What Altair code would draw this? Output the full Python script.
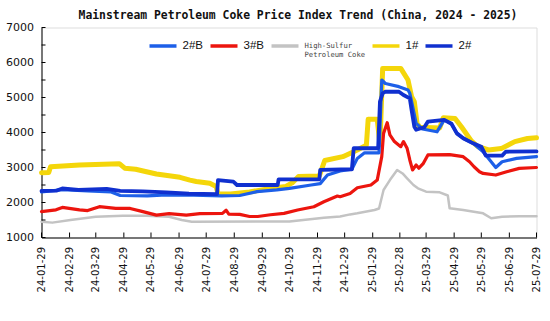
import altair as alt
import pandas as pd

# ---------------- data ----------------
SERIES = ["2#B", "3#B", "High-Sulfur Petroleum Coke", "1#", "2#"]

TICK_DATES = ["2024-01-29", "2024-02-29", "2024-03-29", "2024-04-29", "2024-05-29",
              "2024-06-29", "2024-07-29", "2024-08-29", "2024-09-29", "2024-10-29",
              "2024-11-29", "2024-12-29", "2025-01-29", "2025-02-28", "2025-03-29",
              "2025-04-29", "2025-05-29", "2025-06-29", "2025-07-29"]
Y_TICKS = [1000, 1500, 2000, 2500, 3000, 3500, 4000, 4500, 5000, 5500, 6000, 6500, 7000]

D_1 = ["2024-01-29", "2024-02-06", "2024-02-08", "2024-03-11", "2024-04-24", "2024-04-30",
       "2024-05-12", "2024-05-24", "2024-06-04", "2024-06-30", "2024-07-11", "2024-07-18",
       "2024-08-02", "2024-08-09", "2024-08-11", "2024-08-25", "2024-09-15", "2024-10-05",
       "2024-10-25", "2024-11-01", "2024-11-08", "2024-12-01", "2024-12-07", "2024-12-27",
       "2025-01-12", "2025-01-22", "2025-01-24", "2025-02-03", "2025-02-06", "2025-02-09",
       "2025-03-01", "2025-03-09", "2025-03-13", "2025-03-16", "2025-03-19", "2025-03-22",
       "2025-04-13", "2025-04-17", "2025-04-30", "2025-05-07", "2025-05-18", "2025-05-25",
       "2025-06-06", "2025-06-20", "2025-07-05", "2025-07-19", "2025-07-29"]
V_1 = [2850, 2860, 3020, 3070, 3110, 2980,
       2950, 2880, 2815, 2720, 2640, 2600,
       2550, 2460, 2250, 2240, 2300, 2390,
       2460, 2560, 2740, 2760, 3200, 3310,
       3500, 3640, 4380, 4380, 3650, 5830,
       5830, 5500, 5020, 4880, 4260, 4150,
       4130, 4420, 4400, 4165, 3760, 3600,
       3500, 3540, 3740, 3830, 3850]

D_2 = ["2024-01-29", "2024-02-15", "2024-02-21", "2024-03-10", "2024-04-10", "2024-04-25",
       "2024-05-20", "2024-06-15", "2024-07-10", "2024-08-10", "2024-08-11", "2024-08-28",
       "2024-09-01", "2024-10-16", "2024-10-17", "2024-12-01", "2024-12-02", "2025-01-06",
       "2025-01-08", "2025-02-04", "2025-02-06", "2025-02-09", "2025-02-12", "2025-02-27",
       "2025-03-04", "2025-03-11", "2025-03-13", "2025-03-16", "2025-03-18", "2025-03-27",
       "2025-03-31", "2025-04-18", "2025-04-26", "2025-05-02", "2025-05-09", "2025-05-20",
       "2025-05-29", "2025-06-03", "2025-06-21", "2025-06-25", "2025-07-29"]
V_2 = [2330, 2340, 2400, 2360, 2390, 2330,
       2320, 2290, 2250, 2240, 2640, 2595,
       2500, 2500, 2660, 2660, 2930, 2950,
       3550, 3550, 4880, 5120, 5165, 5165,
       5070, 4975, 4640, 4165, 4080, 4150,
       4310, 4360, 4250, 3975, 3835, 3690,
       3595, 3340, 3340, 3450, 3460]

D_2B = ["2024-01-29", "2024-02-21", "2024-03-20", "2024-04-15", "2024-04-25", "2024-05-25",
        "2024-06-15", "2024-07-15", "2024-08-15", "2024-09-04", "2024-09-23", "2024-10-15",
        "2024-10-29", "2024-11-22", "2024-12-02", "2024-12-10", "2024-12-24", "2025-01-06",
        "2025-01-12", "2025-01-20", "2025-02-05", "2025-02-08", "2025-02-12", "2025-02-27",
        "2025-03-09", "2025-03-11", "2025-03-13", "2025-03-18", "2025-03-25", "2025-04-10",
        "2025-04-18", "2025-04-26", "2025-05-02", "2025-05-09", "2025-05-20", "2025-05-31",
        "2025-06-14", "2025-06-21", "2025-07-07", "2025-07-29"]
V_2B = [2300, 2370, 2330, 2300, 2200, 2190,
        2220, 2210, 2190, 2200, 2310, 2360,
        2405, 2500, 2540, 2785, 2900, 2950,
        3260, 3420, 3420, 5500, 5400, 5310,
        5215, 5120, 4880, 4260, 4100, 4020,
        4360, 4250, 3975, 3835, 3690, 3450,
        3000, 3165, 3260, 3310]

D_3B = ["2024-01-29", "2024-02-14", "2024-02-21", "2024-03-11", "2024-03-20", "2024-04-02",
        "2024-04-20", "2024-05-06", "2024-05-20", "2024-06-04", "2024-06-18", "2024-07-07",
        "2024-07-22", "2024-08-16", "2024-08-20", "2024-08-23", "2024-09-04", "2024-09-15",
        "2024-09-24", "2024-10-08", "2024-10-23", "2024-11-07", "2024-11-25", "2024-12-06",
        "2024-12-21", "2024-12-24", "2025-01-04", "2025-01-12", "2025-01-27", "2025-02-03",
        "2025-02-08", "2025-02-10", "2025-02-14", "2025-02-17", "2025-02-22", "2025-03-01",
        "2025-03-04", "2025-03-08", "2025-03-11", "2025-03-14", "2025-03-18", "2025-03-21",
        "2025-03-26", "2025-03-31", "2025-04-24", "2025-05-09", "2025-05-16", "2025-05-21",
        "2025-05-27", "2025-05-31", "2025-06-14", "2025-06-26", "2025-07-10", "2025-07-29"]
V_3B = [1740, 1790, 1860, 1790, 1770, 1880,
        1830, 1830, 1740, 1640, 1680, 1640,
        1680, 1690, 1780, 1670, 1660, 1600,
        1600, 1650, 1690, 1785, 1880, 2020,
        2185, 2165, 2260, 2420, 2500, 2640,
        3310, 3975, 4280, 3930, 3740, 3595,
        3740, 3550, 3215, 2930, 3070, 2980,
        3120, 3360, 3370, 3310, 3165, 3020,
        2880, 2830, 2785, 2880, 2975, 3000]

D_HS = ["2024-01-29", "2024-02-10", "2024-03-01", "2024-03-29", "2024-04-28", "2024-05-24",
        "2024-06-18", "2024-07-02", "2024-07-13", "2024-10-29", "2024-12-06", "2024-12-24",
        "2025-01-04", "2025-01-12", "2025-01-31", "2025-02-05", "2025-02-10", "2025-02-17",
        "2025-02-25", "2025-03-03", "2025-03-08", "2025-03-15", "2025-03-20", "2025-03-29",
        "2025-04-13", "2025-04-22", "2025-04-24", "2025-05-09", "2025-05-31", "2025-06-09",
        "2025-06-21", "2025-07-10", "2025-07-29"]
V_HS = [1450, 1425, 1500, 1595, 1620, 1620,
        1595, 1500, 1450, 1460, 1565, 1600,
        1660, 1690, 1785, 1830, 2357, 2640,
        2930, 2830, 2690, 2500, 2405, 2310,
        2290, 2200, 1835, 1785, 1690, 1550,
        1595, 1610, 1610]

# ---------------- styling ----------------
COLORS = ["#1d5fe8", "#ec150e", "#c3c3c3", "#f4d60a", "#1030cf"]
WIDTHS = {"2#B": 3.2, "3#B": 3.2, "High-Sulfur Petroleum Coke": 2.5, "1#": 5, "2#": 3.8}
DRAW_ORDER = ["1#", "High-Sulfur Petroleum Coke", "3#B", "2#B", "2#"]

frames = []
for name, d, v in [("1#", D_1, V_1), ("2#", D_2, V_2), ("2#B", D_2B, V_2B),
                   ("3#B", D_3B, V_3B), ("High-Sulfur Petroleum Coke", D_HS, V_HS)]:
    frames.append(pd.DataFrame({"date": d, "value": v, "series": name}))
df = pd.concat(frames, ignore_index=True)

W, H = 495, 210
x_scale = alt.Scale(type="utc", domain=["2024-01-29", "2025-07-29"], nice=False)
y_scale = alt.Scale(domain=[1000, 7000], nice=False, zero=False)

tick_ms = [int(pd.Timestamp(t, tz="UTC").value // 10**6) for t in TICK_DATES]

x_axis = alt.Axis(values=tick_ms, labelExpr="utcFormat(datum.value, '%y-%m-%d')",
                  labelAngle=-90, labelAlign="right", labelBaseline="middle",
                  labelFont="DejaVu Sans", labelFontSize=10, labelColor="#111",
                  labelPadding=9, tickSize=0, domainColor="#000", domainWidth=1,
                  grid=False, title=None, labelOverlap=False)
y_axis = alt.Axis(values=[1000, 2000, 3000, 4000, 5000, 6000, 7000], format="d",
                  labelFont="DejaVu Sans", labelFontSize=11, labelColor="#111",
                  labelPadding=8, tickSize=0, domainColor="#000", domainWidth=1,
                  grid=False, title=None)

hs = "High-Sulfur Petroleum Coke"
legend = alt.Legend(
    title=None, orient="none", legendX=106, legendY=3, direction="horizontal", columns=5,
    gridAlign="none",
    symbolType="stroke", symbolSize=729, symbolStrokeWidth=3.5,
    labelExpr=f"datum.label == '{hs}' ? ['High-Sulfur', 'Petroleum Coke'] : datum.label",
    labelFont=alt.ExprRef(f"datum.label == '{hs}' ? 'DejaVu Sans Mono' : 'Liberation Sans'"),
    labelFontSize=alt.ExprRef(f"datum.label == '{hs}' ? 7.2 : 11.5"),
    labelColor=alt.ExprRef(f"datum.label == '{hs}' ? '#444444' : '#111111'"),
    labelOffset=4, columnPadding=0, labelLimit=200,
)

color = alt.Color("series:N", scale=alt.Scale(domain=SERIES, range=COLORS), legend=legend)

layers = []
for s in DRAW_ORDER:
    layers.append(
        alt.Chart(df).transform_filter(alt.datum.series == s)
        .mark_line(strokeWidth=WIDTHS[s], strokeJoin="round", strokeCap="round")
        .encode(x=alt.X("date:T", scale=x_scale, axis=x_axis),
                y=alt.Y("value:Q", scale=y_scale, axis=y_axis),
                color=color)
    )

xt = alt.Chart(pd.DataFrame({"date": TICK_DATES})).mark_rule(color="#000", strokeWidth=1).encode(
    x=alt.X("date:T", scale=x_scale, axis=x_axis), y=alt.value(H), y2=alt.value(H - 5))
yt = alt.Chart(pd.DataFrame({"value": Y_TICKS})).mark_rule(color="#000", strokeWidth=1).encode(
    y=alt.Y("value:Q", scale=y_scale, axis=y_axis), x=alt.value(0), x2=alt.value(4))

chart = alt.layer(*layers, xt, yt).properties(
    width=W, height=H,
    autosize=alt.AutoSizeParams(type="none"),
    padding={"left": 41.5, "top": 27.5, "right": 13.5, "bottom": 83.5},
    title=alt.TitleParams("Mainstream Petroleum Coke Price Index Trend (China, 2024 - 2025)",
                          font="DejaVu Sans Mono", fontSize=11.4, fontWeight="bold",
                          color="#111", anchor="middle", dx=9, dy=7, offset=7),
).configure_view(stroke=None).configure(background="white")

chart.save("out.html", embed_options={"renderer": "svg", "actions": False})
